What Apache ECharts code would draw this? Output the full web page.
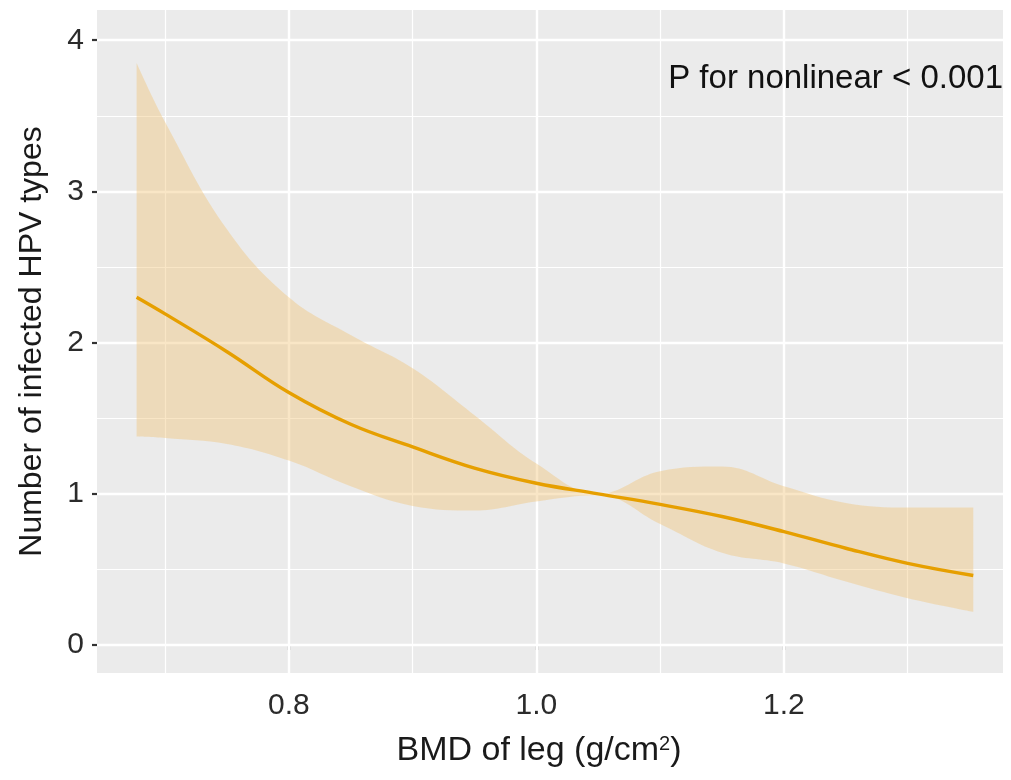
<!DOCTYPE html>
<html>
<head>
<meta charset="utf-8">
<script src="https://cdn.jsdelivr.net/npm/echarts@6/dist/echarts.min.js"></script>
<style>
html,body{margin:0;padding:0;background:#fff;}
#chart{width:1011px;height:780px;}
</style>
</head>
<body>
<div id="chart"></div>
<script>
// BMD of leg (g/cm^2)
var bmd   = [0.677, 0.70, 0.75, 0.80, 0.85, 0.90, 0.95, 1.00, 1.05, 1.10, 1.15, 1.20, 1.25, 1.30, 1.353];
// fitted number of infected HPV types
var fit   = [2.30, 2.19, 1.94, 1.67, 1.46, 1.31, 1.17, 1.07, 1.00, 0.93, 0.85, 0.75, 0.64, 0.54, 0.46];
// 95% CI
var upper = [3.85, 3.46, 2.75, 2.30, 2.05, 1.83, 1.52, 1.20, 1.00, 1.15, 1.18, 1.05, 0.94, 0.91, 0.91];
var lower = [1.38, 1.37, 1.33, 1.22, 1.05, 0.92, 0.89, 0.95, 0.99, 0.80, 0.61, 0.54, 0.42, 0.31, 0.22];

var xTicks = [0.8, 1.0, 1.2];
var xMinor = [0.7, 0.9, 1.1, 1.3];
var yTicks = [0, 1, 2, 3, 4];
var yMinor = [0.5, 1.5, 2.5, 3.5];
var annotation = 'P for nonlinear < 0.001';

// stored as [value, bmd] so that stacking is applied to the y dimension
var lowerData = bmd.map(function(x, i){ return [lower[i], x]; });
var bandData  = bmd.map(function(x, i){ return [upper[i] - lower[i], x]; });
var fitData   = bmd.map(function(x, i){ return [x, fit[i]]; });

var gridLines = [];
xTicks.forEach(function(v){ gridLines.push({xAxis: v, lineStyle:{width:2.4}}); });
xMinor.forEach(function(v){ gridLines.push({xAxis: v, lineStyle:{width:1.2}}); });
yTicks.forEach(function(v){ gridLines.push({yAxis: v, lineStyle:{width:2.4}}); });
yMinor.forEach(function(v){ gridLines.push({yAxis: v, lineStyle:{width:1.2}}); });

var font = 'Liberation Sans, Arial, sans-serif';
var chart = echarts.init(document.getElementById('chart'), null, {renderer:'canvas'});
chart.setOption({
  animation: false,
  backgroundColor: '#ffffff',
  grid: {left: 97, top: 10, right: 8, bottom: 107, show: true, backgroundColor: '#EBEBEB', borderWidth: 0, containLabel: false},
  xAxis: {
    type: 'value', min: 0.645, max: 1.377,
    name: 'BMD of leg (g/cm{sup|2})',
    nameLocation: 'middle', nameGap: 61,
    nameTextStyle: {fontFamily: font, fontSize: 34, color: '#1a1a1a', padding: [0, 22, 0, 0],
      rich: {sup: {fontFamily: font, fontSize: 20, color: '#1a1a1a', verticalAlign: 'top', padding:[0,0,14,0]}}},
    axisLine: {show: false},
    axisTick: {show: true, customValues: xTicks, length: 5, lineStyle: {color: '#333', width: 2.2}},
    axisLabel: {customValues: xTicks, fontFamily: font, fontSize: 30, color: '#2b2b2b', margin: 18,
      formatter: function(v){ return v.toFixed(1); }},
    splitLine: {show: false}
  },
  yAxis: {
    type: 'value', min: -0.185, max: 4.2,
    name: 'Number of infected HPV types',
    nameLocation: 'middle', nameGap: 49,
    nameTextStyle: {fontFamily: font, fontSize: 32, color: '#1a1a1a'},
    axisLine: {show: false},
    axisTick: {show: true, customValues: yTicks, length: 5, lineStyle: {color: '#333', width: 2.2}},
    axisLabel: {customValues: yTicks, fontFamily: font, fontSize: 30, color: '#2b2b2b', margin: 13,
      formatter: function(v){ return String(Math.round(v)); }},
    splitLine: {show: false}
  },
  graphic: [{
    type: 'text', right: 8, top: 62, z: 100,
    style: {text: annotation, font: '33px ' + font, fill: '#111', textAlign: 'right'}
  }],
  series: [
    {
      type: 'line', name: 'grid', data: [], z: 1, silent: true,
      markLine: {silent: true, symbol: 'none', z: 1, label: {show: false},
        lineStyle: {color: '#ffffff', type: 'solid'}, data: gridLines}
    },
    {
      type: 'line', name: 'lower', data: lowerData, encode: {x: 1, y: 0}, stack: 'ci', smooth: 0.4,
      showSymbol: false, lineStyle: {opacity: 0, width: 0}, z: 3, silent: true
    },
    {
      type: 'line', name: 'band', data: bandData, encode: {x: 1, y: 0}, stack: 'ci', smooth: 0.4,
      showSymbol: false, lineStyle: {opacity: 0, width: 0}, z: 3, silent: true,
      areaStyle: {color: 'rgba(240, 196, 120, 0.42)', opacity: 1}
    },
    {
      type: 'line', name: 'fit', data: fitData, smooth: 0.4,
      showSymbol: false, lineStyle: {color: '#E69F00', width: 3.4}, z: 4, silent: true
    }
  ]
});
</script>
</body>
</html>
